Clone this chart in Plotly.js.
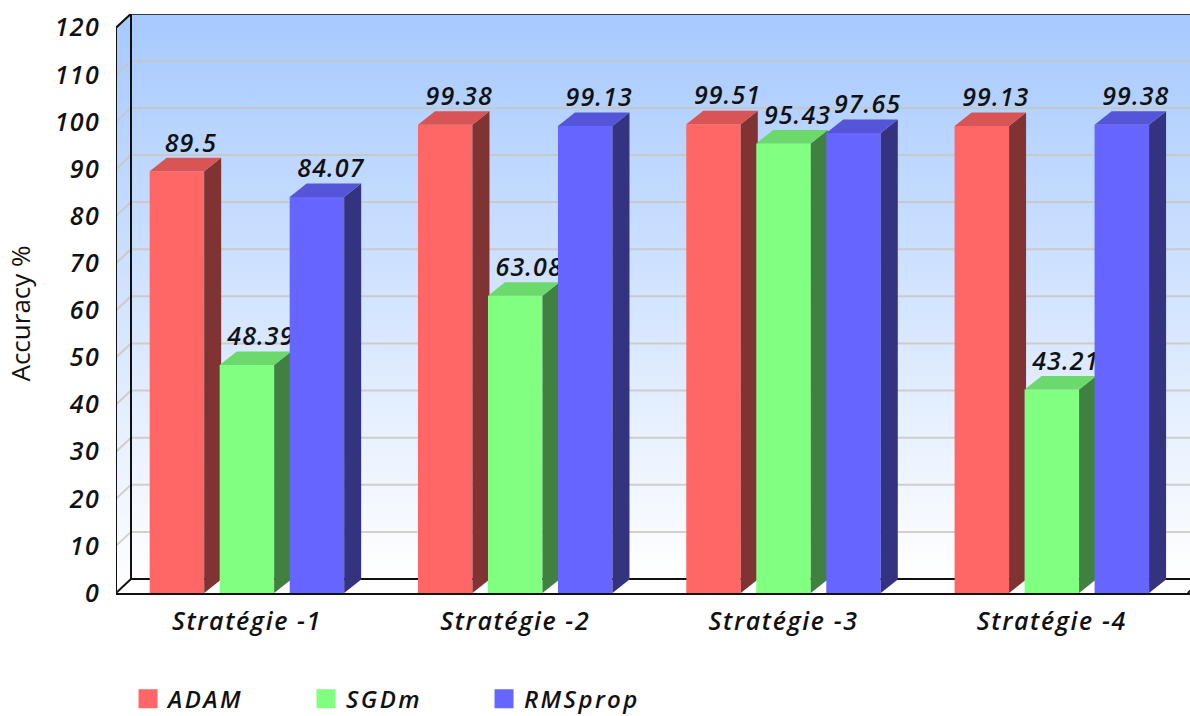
<!DOCTYPE html>
<html>
<head>
<meta charset="utf-8">
<script src="https://cdn.plot.ly/plotly-3.0.1.min.js"></script>
<style>
html,body{margin:0;padding:0;background:#fff}
#chart{width:1190px;height:716px}
#chart .ytick text{letter-spacing:1.3px}
#chart .legendtext{letter-spacing:2.4px}
#chart .xtick text{letter-spacing:1.6px}
#chart .textpoint text{letter-spacing:1.1px}
#chart .g-ytitle{transform:translateY(10px)}
</style>
</head>
<body>
<div id="chart"></div>
<script>
const categories = ['Stratégie -1', 'Stratégie -2', 'Stratégie -3', 'Stratégie -4'];
const adam = [89.5, 99.38, 99.51, 99.13];
const sgdm = [48.39, 63.08, 95.43, 43.21];
const rmsprop = [84.07, 99.13, 97.65, 99.38];
const yTicks = [0, 10, 20, 30, 40, 50, 60, 70, 80, 90, 100, 110, 120];
const seriesNames = ['ADAM', 'SGDm', 'RMSprop'];
const seriesValues = [adam, sgdm, rmsprop];
const frontColors = ['#ff6666', '#80ff80', '#6666ff'];
const sideColors = ['#7f3333', '#408040', '#333380'];
const topColors = ['#d95555', '#6cd96c', '#5555d9'];

const pxX = 268.3, pxY = 4.71;
const xRange = [-0.488, 3.515], yRange = [0, 122.9];
const wallDX = 15 / pxX, wallDY = 14 / pxY;
const barDX = 17 / pxX, barDY = 13.5 / pxY;
const barW = 54.5 / pxX, step = 70 / pxX;
const F = '"Open Sans", sans-serif';
const tickFont = {family: F, size: 25, color: '#111', style: 'italic', weight: 600};
const legendFont = {family: F, size: 24, color: '#111', style: 'italic', weight: 600};
const labelFont = {family: F, size: 25, color: '#111', style: 'italic', weight: 600};

const xEnd = 3.507;
const wallTop = yTicks[yTicks.length - 1];
const traces = [];

// walls
traces.push({type: 'scatter', mode: 'none', fill: 'toself', hoverinfo: 'skip', showlegend: false,
  x: [xRange[0] + wallDX, xRange[1] + 0.1, xRange[1] + 0.1, xRange[0] + wallDX],
  y: [wallDY, wallDY, wallTop + wallDY, wallTop + wallDY],
  fillgradient: {type: 'vertical', colorscale: [[0, '#ffffff'], [1, '#a6c9ff']]}});
traces.push({type: 'scatter', mode: 'none', fill: 'toself', hoverinfo: 'skip', showlegend: false,
  x: [xRange[0], xRange[0] + wallDX, xRange[0] + wallDX, xRange[0]],
  y: [0, wallDY, wallTop + wallDY, wallTop],
  fillgradient: {type: 'vertical', colorscale: [[0, '#ffffff'], [1, '#a6c9ff']]}});

// grid lines
const gx = [], gy = [];
yTicks.slice(1, -1).forEach(v => {
  gx.push(xRange[0], xRange[0] + wallDX, xRange[1] + 0.1, null);
  gy.push(v, v + wallDY, v + wallDY, null);
});
traces.push({type: 'scatter', mode: 'lines', x: gx, y: gy, hoverinfo: 'skip', showlegend: false,
  line: {color: 'rgba(200,197,188,0.8)', width: 2}});

// frame
traces.push({type: 'scatter', mode: 'lines', hoverinfo: 'skip', showlegend: false,
  x: [xRange[0], xRange[0], xRange[0] + wallDX, xRange[1] + 0.1, null,
      xRange[0] + wallDX, xRange[0] + wallDX, xRange[1] + 0.1, null,
      xRange[0] + wallDX, xRange[0], null, xEnd, xEnd + wallDX],
  y: [0, wallTop, wallTop + wallDY, wallTop + wallDY, null,
      wallTop + wallDY, wallDY, wallDY, null,
      wallDY, 0, null, 0, wallDY],
  line: {color: '#111', width: 2}});

// series in overlaid subplots so that later series cover earlier labels
seriesValues.forEach((vals, s) => {
  const n = s + 2;
  const xa = 'x' + n, ya = 'y' + n;
  const xs = vals.map((_, i) => i + (s - 1) * step);
  const sx = [], sy = [], tx = [], ty = [];
  vals.forEach((v, i) => {
    const l = xs[i] - barW / 2, r = xs[i] + barW / 2;
    sx.push(r, r + barDX, r + barDX, r, r, null);
    sy.push(0, barDY, v + barDY, v, 0, null);
    tx.push(l, l + barDX, r + barDX, r, l, null);
    ty.push(v, v + barDY, v + barDY, v, v, null);
  });
  traces.push({type: 'bar', xaxis: xa, yaxis: ya, x: xs, y: vals, width: barW, name: seriesNames[s],
    marker: {color: frontColors[s]}, showlegend: false});
  traces.push({type: 'scatter', xaxis: xa, yaxis: ya, mode: 'lines', fill: 'toself', x: sx, y: sy,
    line: {width: 0, color: sideColors[s]}, fillcolor: sideColors[s], hoverinfo: 'skip', showlegend: false});
  traces.push({type: 'scatter', xaxis: xa, yaxis: ya, mode: 'lines', fill: 'toself', x: tx, y: ty,
    line: {width: 0, color: topColors[s]}, fillcolor: topColors[s], hoverinfo: 'skip', showlegend: false});
  traces.push({type: 'scatter', xaxis: xa, yaxis: ya, mode: 'text', x: xs.map(v => v + 14 / pxX),
    y: vals.map(v => v + barDY), text: vals.map(String), textposition: 'top center',
    textfont: labelFont, cliponaxis: false, hoverinfo: 'skip', showlegend: false});
  // legend swatch
  traces.push({type: 'scatter', xaxis: xa, yaxis: ya, mode: 'markers', x: [null], y: [null], name: seriesNames[s],
    marker: {symbol: 'square', size: 16, color: frontColors[s], line: {width: 3, color: frontColors[s]}},
    showlegend: true, hoverinfo: 'skip'});
});

const hiddenX = {range: xRange, overlaying: 'x', visible: false, fixedrange: true};
const hiddenY = {range: yRange, overlaying: 'y', visible: false, fixedrange: true};

const layout = {
  width: 1190, height: 716,
  margin: {l: 116, r: 0, t: 14, b: 123, pad: 0, autoexpand: false},
  paper_bgcolor: '#fff', plot_bgcolor: '#fff',
  showlegend: true,
  legend: {orientation: 'h', x: 0.0112, xanchor: 'left', y: -0.1832, yanchor: 'middle',
    entrywidth: 133, entrywidthmode: 'pixels', itemsizing: 'trace', traceorder: 'normal',
    font: legendFont, bgcolor: 'rgba(0,0,0,0)'},
  xaxis: {range: xRange, tickmode: 'array', tickvals: categories.map((_, i) => i), ticktext: categories,
    showgrid: false, zeroline: false, ticks: '', ticklabelstandoff: 5, showline: true, linecolor: '#111', linewidth: 2,
    tickfont: tickFont, fixedrange: true},
  yaxis: {range: yRange, tickmode: 'array', tickvals: yTicks, showgrid: false, zeroline: false, ticks: '',
    ticklabelstandoff: 15, showline: false, tickfont: tickFont, fixedrange: true,
    title: {text: 'Accuracy %', standoff: 20, font: {family: F, size: 26, color: '#111', weight: 500}}},
  xaxis2: hiddenX, yaxis2: hiddenY,
  xaxis3: hiddenX, yaxis3: hiddenY,
  xaxis4: hiddenX, yaxis4: hiddenY
};
Plotly.newPlot('chart', traces, layout, {displayModeBar: false, responsive: false});
</script>
</body>
</html>
